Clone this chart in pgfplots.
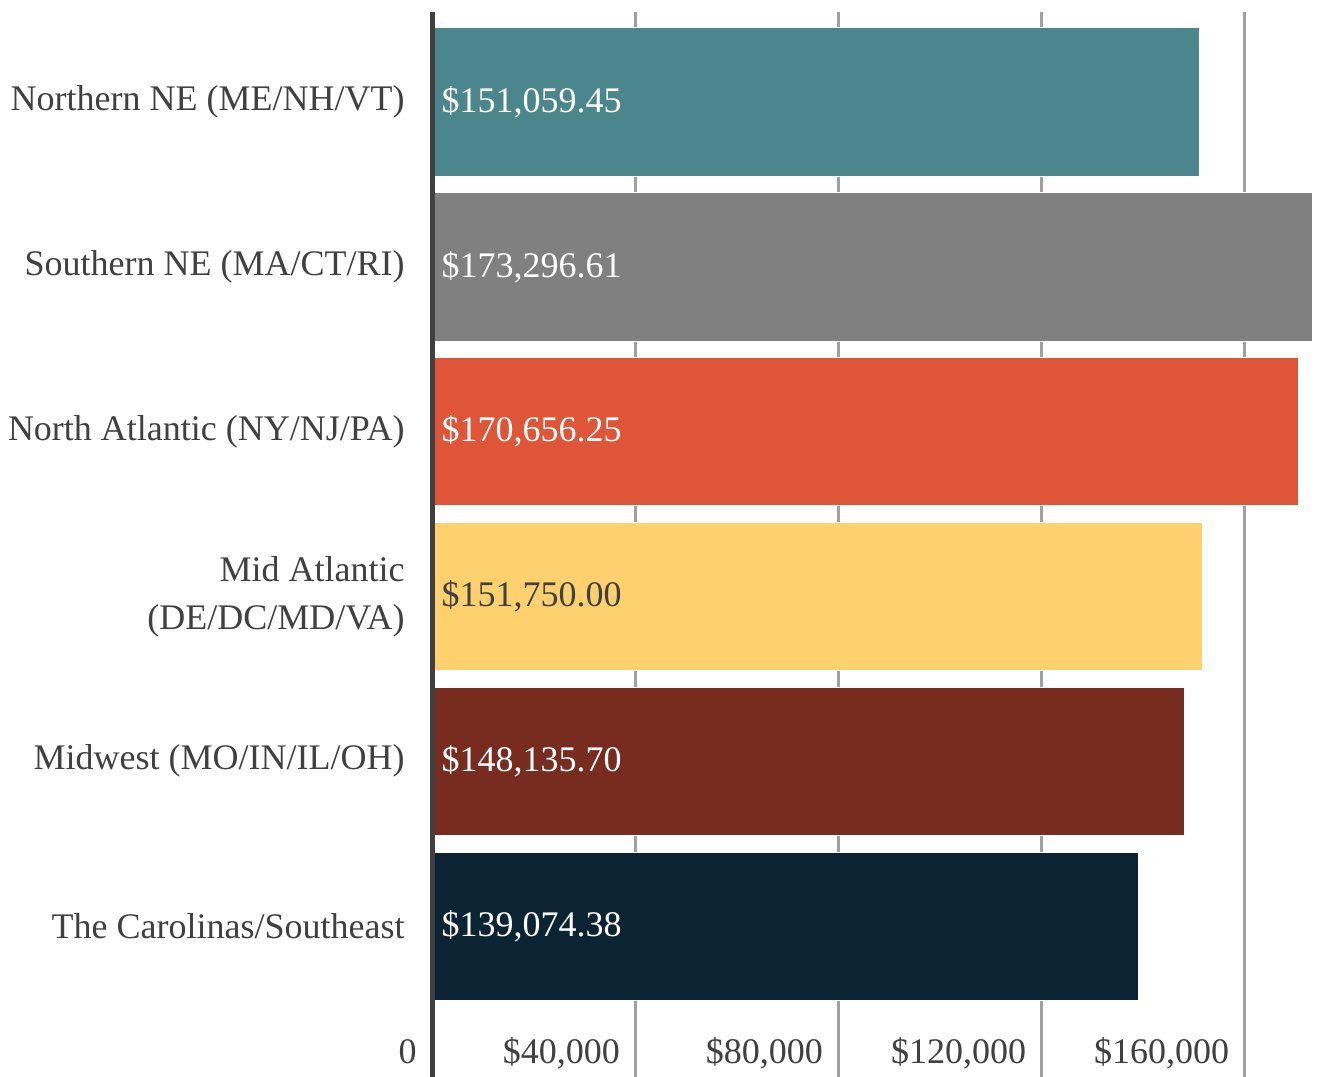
\documentclass[border=0pt]{standalone}
\usepackage{pgfplots}
\pgfplotsset{compat=1.18}
\usepackage{fontspec}
\setmainfont{Liberation Serif}
\definecolor{txt}{HTML}{404040}
\definecolor{gridc}{HTML}{A0A0A0}
\definecolor{axc}{HTML}{404040}
\definecolor{cA}{HTML}{4B868D}
\definecolor{cB}{HTML}{808080}
\definecolor{cC}{HTML}{DE5537}
\definecolor{cD}{HTML}{FED06E}
\definecolor{cE}{HTML}{782C1F}
\definecolor{cF}{HTML}{0A2433}
\begin{document}
\fontsize{10.8}{14.4}\selectfont
\begin{tikzpicture}
\useasboundingbox (-129.6pt,0pt) rectangle (267pt,323.1pt);
\begin{axis}[
  scale only axis,
  width=264pt, height=319.5pt,
  at={(0,0)}, anchor=south west,
  xmin=0, xmax=173296.61,
  ymin=-0.546, ymax=5.916,
  y dir=reverse,
  axis line style={draw=none},
  xmajorgrids,
  major grid style={color=gridc, line width=0.9pt},
  major tick length=0pt,
  xtick={0,40000,80000,120000,160000},
  xticklabels={0,\$40{,}000,\$80{,}000,\$120{,}000,\$160{,}000},
  xticklabel style={anchor=base east, inner sep=0pt, xshift=-4.4pt, yshift=3.9pt, text=txt, font=\fontsize{10.8}{14.4}\selectfont},
  ytick={0,1,2,3,4,5},
  yticklabels={Northern NE (ME/NH/VT),Southern NE (MA/CT/RI),North Atlantic (NY/NJ/PA),{Mid Atlantic\\(DE/DC/MD/VA)},Midwest (MO/IN/IL/OH),The Carolinas/Southeast},
  yticklabel style={anchor=east, align=right, inner sep=0pt, xshift=-8pt, text=txt, font=\fontsize{10.8}{14.4}\selectfont},
  nodes near coords style={font=\fontsize{10.8}{14.4}\selectfont},
  after end axis/.code={\draw[color=axc, line width=1.7pt] ([xshift=0.2pt]rel axis cs:0,0) -- ([xshift=0.2pt]rel axis cs:0,1);},
]
\addplot[xbar, bar shift=0pt, bar width=0.9, fill=cA, draw=white, line width=0.2pt] coordinates {(151059.45,0)};
\addplot[xbar, bar shift=0pt, bar width=0.9, fill=cB, draw=white, line width=0.2pt] coordinates {(173296.61,1)};
\addplot[xbar, bar shift=0pt, bar width=0.9, fill=cC, draw=white, line width=0.2pt] coordinates {(170656.25,2)};
\addplot[xbar, bar shift=0pt, bar width=0.9, fill=cD, draw=white, line width=0.2pt] coordinates {(151750.00,3)};
\addplot[xbar, bar shift=0pt, bar width=0.9, fill=cE, draw=white, line width=0.2pt] coordinates {(148135.70,4)};
\addplot[xbar, bar shift=0pt, bar width=0.9, fill=cF, draw=white, line width=0.2pt] coordinates {(139074.38,5)};
\addplot[draw=none, mark=none, nodes near coords, point meta=explicit symbolic,
  every node near coord/.append style={anchor=west, inner sep=0pt, xshift=2.7pt, text=white}]
  coordinates {(0,0) [\$151{,}059.45] (0,1) [\$173{,}296.61] (0,2) [\$170{,}656.25] (0,4) [\$148{,}135.70] (0,5) [\$139{,}074.38]};
\addplot[draw=none, mark=none, nodes near coords, point meta=explicit symbolic,
  every node near coord/.append style={anchor=west, inner sep=0pt, xshift=2.7pt, text=txt}]
  coordinates {(0,3) [\$151{,}750.00]};
\end{axis}
\end{tikzpicture}
\end{document}
